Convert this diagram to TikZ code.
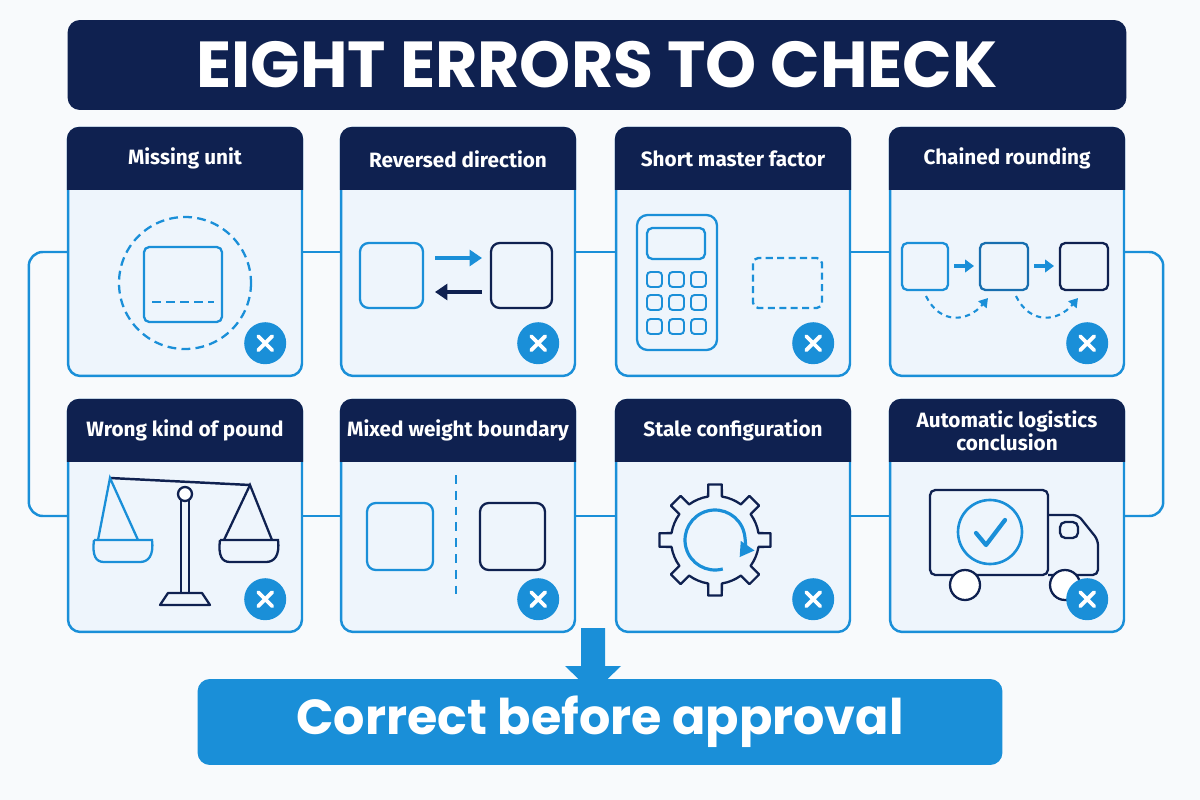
\documentclass[tikz,border=0pt]{standalone}
\usepackage{fontspec}
\setmainfont{Fira Sans}
\newfontfamily\headfont{Poppins}
\usetikzlibrary{calc,arrows.meta}
\definecolor{navy}{HTML}{0F2150}
\definecolor{skyblue}{HTML}{1A8FD8}
\definecolor{cardfill}{HTML}{EEF5FC}
\definecolor{pagebg}{HTML}{F8FAFC}
\tikzset{
  card/.style={draw=skyblue, line width=1.4pt, fill=cardfill, rounded corners=7pt,
    minimum width=4.68cm, inner sep=0pt},
  head/.style={text=white, font=\bfseries\fontsize{11.8}{13.5}\selectfont, align=center},
  link/.style={draw=skyblue, line width=1.4pt, rounded corners=8pt},
  iconb/.style={draw=skyblue, line width=1.3pt, rounded corners=3pt},
  iconn/.style={draw=navy, line width=1.3pt, rounded corners=3pt},
  badge/.style={circle, fill=skyblue, minimum size=0.84cm, inner sep=0pt},
}
\newcommand{\crossmark}[1]{%
  \node[badge] (#1x) at ($(#1.south east)+(-38,-34)$) {};
  \draw[white, line width=2.2pt, line cap=round]
    ($(#1x)+(-7,-7)$) -- ($(#1x)+(7,7)$) ($(#1x)+(-7,7)$) -- ($(#1x)+(7,-7)$);}
\begin{document}
\begin{tikzpicture}[x=0.02cm, y=-0.02cm]
  \fill[pagebg] (0,0) rectangle (1200,800);
  \useasboundingbox (0,0) rectangle (1200,800);
  % title bar
  \node[fill=navy, rounded corners=7pt, minimum width=21.18cm, minimum height=1.8cm,
    text=white, font=\headfont\bfseries\fontsize{37}{40}\selectfont] (title) at (597,65) {EIGHT ERRORS TO CHECK};
  % cards
  \foreach \n/\x/\y/\h/\t in {
      c1/185/252/4.96cm/Missing unit, c2/458/252/4.96cm/Reversed direction,
      c3/733/252/4.96cm/Short master factor, c4/1007/252/4.96cm/Chained rounding,
      c5/185/516/4.64cm/Wrong kind of pound, c6/458/516/4.64cm/Mixed weight boundary,
      c7/733/516/4.64cm/Stale configuration, c8/1007/516/4.64cm/{Automatic logistics\\conclusion}}{
    \node[card, minimum height=\h] (\n) at (\x,\y) {};
    \fill[navy] ($(\n.north west)+(0,63)$) [rounded corners=7pt] -- (\n.north west)
      -- (\n.north east) [sharp corners] -- ($(\n.north east)+(0,63)$) -- cycle;
    \node[head] at ($(\n.north)+(0,32)$) {\t};
  }
  % connectors
  \draw[link] (c1.east) -- (c2.west) (c2.east) -- (c3.west) (c3.east) -- (c4.west);
  \draw[link] (c5.east) -- (c6.west) (c6.east) -- (c7.west) (c7.east) -- (c8.west);
  \draw[link] (c1.west) -- ++(-38,0) |- (c5.west);
  \draw[link] (c4.east) -- ++(38,0) |- (c8.east);
  % missing unit
  \draw[skyblue, line width=1.3pt, dash pattern=on 5pt off 3pt] (185,283) circle[radius=66];
  \draw[iconb] (144,247) rectangle (222,322);
  \draw[skyblue, line width=1.3pt, dash pattern=on 5pt off 3pt] (152,302) -- (214,302);
  % reversed direction
  \draw[iconb, rounded corners=5pt] (360,243) rectangle (423,308);
  \draw[iconn, rounded corners=5pt] (491,243) rectangle (552,308);
  \draw[skyblue, line width=2.6pt, -{Triangle[length=7pt,width=9pt]}] (435,258) -- (482,258);
  \draw[navy, line width=2.6pt, -{Triangle[length=7pt,width=9pt]}] (482,292) -- (435,292);
  % short master factor
  \draw[iconb, rounded corners=6pt] (637,215) rectangle (717,350);
  \draw[iconb] (647,228) rectangle (705,259);
  \foreach \kx in {647,669,691}
    \foreach \ky in {272,295,319}
      \draw[iconb, line width=1.1pt, rounded corners=2pt] (\kx,\ky) rectangle ++(15,15);
  \draw[iconb, dash pattern=on 4pt off 2.5pt] (753,258) rectangle (822,308);
  % chained rounding
  \draw[iconb] (902,243) rectangle (948,290);
  \draw[iconb, draw=skyblue!70!navy] (980,243) rectangle (1028,290);
  \draw[iconn] (1060,243) rectangle (1108,290);
  \foreach \ax in {954,1034}
    \draw[skyblue, line width=2pt, -{Triangle[length=5pt,width=7pt]}] (\ax,266) -- ++(20,0);
  \draw[skyblue, line width=1.2pt, dash pattern=on 3pt off 2.5pt, -{Triangle[length=5pt,width=6pt]}]
    (926,296) .. controls (940,325) and (968,322) .. (988,298);
  \draw[skyblue, line width=1.2pt, dash pattern=on 3pt off 2.5pt, -{Triangle[length=5pt,width=6pt]}]
    (1016,296) .. controls (1030,325) and (1058,322) .. (1078,298);
  % wrong kind of pound
  \draw[navy, line width=1.4pt] (110,478) -- (250,485);
  \draw[navy, line width=1.3pt] (181,500) -- (181,593) (189,500) -- (189,593);
  \draw[navy, line width=1.3pt, fill=white] (185,494) circle[radius=7];
  \draw[navy, line width=1.3pt, line join=round] (168,593) -- (202,593) -- (210,605) -- (160,605) -- cycle;
  \draw[skyblue, line width=1.3pt] (98,540) -- (110,478) -- (138,540);
  \draw[skyblue, line width=1.3pt] (94,540) -- (152,540) .. controls (154,556) and (148,562) .. (140,562)
    -- (104,562) .. controls (96,562) and (92,556) .. (94,540);
  \draw[navy, line width=1.3pt] (224,540) -- (250,485) -- (272,540);
  \draw[navy, line width=1.3pt] (220,540) -- (278,540) .. controls (280,556) and (274,562) .. (266,562)
    -- (230,562) .. controls (222,562) and (218,556) .. (220,540);
  % mixed weight boundary
  \draw[iconb, rounded corners=5pt] (367,503) rectangle (433,570);
  \draw[iconn, rounded corners=5pt] (480,503) rectangle (545,570);
  \draw[skyblue, line width=1.3pt, dash pattern=on 5pt off 4pt] (456,475) -- (456,598);
  % stale configuration
  \begin{scope}[shift={(715,540)}]
    \draw[navy, line width=1.3pt, line join=round] (-9:44)
      \foreach \a in {0,45,...,315}{ -- (\a-9:44) -- (\a-7:56) -- (\a+7:56) -- (\a+9:44)
        arc[start angle=\a+9, end angle=\a+36, radius=44] } -- cycle;
    \draw[skyblue, line width=1.8pt, -{Triangle[length=8pt,width=9pt]}]
      (75:30) arc[start angle=75, end angle=395, radius=30];
  \end{scope}
  % automatic logistics conclusion
  \draw[iconn, fill=cardfill] (930,490) rectangle (1048,575);
  \draw[iconn, line join=round] (1048,515) -- (1078,515) -- (1098,540) -- (1098,575) -- (1048,575);
  \draw[iconn] (1060,522) rectangle (1078,538);
  \draw[skyblue, line width=1.5pt] (990,532) circle[radius=32];
  \draw[skyblue, line width=2.4pt, line cap=round, line join=round] (976,533) -- (986,545) -- (1005,520);
  \draw[navy, line width=1.3pt, fill=white] (965,585) circle[radius=15] (1065,585) circle[radius=15];
  % error marks
  \foreach \n in {c1,c2,c3,c4,c5,c6,c7,c8}{\crossmark{\n}}
  % result
  \node[fill=skyblue, rounded corners=7pt, minimum width=16.1cm, minimum height=1.72cm,
    text=white, font=\headfont\bfseries\fontsize{28}{32}\selectfont] (result) at (600,722) {Correct before approval};
  \fill[skyblue] (581,628) -- (605,628) -- (605,666) -- (621,666) -- (593,693) -- (565,666) -- (581,666) -- cycle;
\end{tikzpicture}
\end{document}
